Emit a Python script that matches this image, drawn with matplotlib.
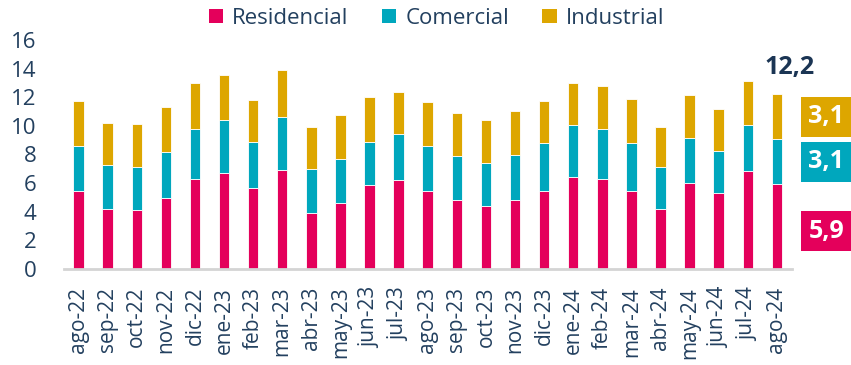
import matplotlib
matplotlib.use("Agg")
import matplotlib.pyplot as plt
import numpy as np
from matplotlib.patches import Patch

months = ["ago-22", "sep-22", "oct-22", "nov-22", "dic-22", "ene-23", "feb-23", "mar-23",
          "abr-23", "may-23", "jun-23", "jul-23", "ago-23", "sep-23", "oct-23", "nov-23",
          "dic-23", "ene-24", "feb-24", "mar-24", "abr-24", "may-24", "jun-24", "jul-24",
          "ago-24"]

residencial = [5.45, 4.20, 4.10, 4.92, 6.25, 6.71, 5.62, 6.90, 3.92, 4.57, 5.83, 6.18,
               5.45, 4.83, 4.36, 4.83, 5.45, 6.43, 6.25, 5.45, 4.20, 5.99, 5.27, 6.81,
               5.94]
comercial = [3.15, 3.05, 2.99, 3.24, 3.52, 3.69, 3.24, 3.68, 3.05, 3.12, 3.03, 3.21,
             3.15, 3.05, 3.05, 3.14, 3.31, 3.59, 3.52, 3.31, 2.89, 3.15, 2.96, 3.21,
             3.12]
industrial = [3.13, 2.94, 3.00, 3.12, 3.21, 3.12, 2.96, 3.29, 2.96, 3.03, 3.12, 2.96,
              3.03, 3.03, 2.96, 3.03, 2.97, 2.96, 3.03, 3.13, 2.84, 3.03, 2.94, 3.13,
              3.14]

c_res = "#E4005B"
c_com = "#00A7BD"
c_ind = "#DDA600"
c_text = "#23405F"

plt.rcParams["font.family"] = ["Open Sans", "DejaVu Sans"]

fig = plt.figure(figsize=(8.51, 3.65), dpi=100)
ax = fig.add_axes([0.0752, 0.2638, 0.8555, 0.6266])

x = np.arange(len(months))
res = np.array(residencial)
com = np.array(comercial)
ind = np.array(industrial)
w = 0.36
ax.bar(x, res, w, color=c_res, edgecolor="white", linewidth=0.6)
ax.bar(x, com, w, bottom=res, color=c_com, edgecolor="white", linewidth=0.6)
ax.bar(x, ind, w, bottom=res + com, color=c_ind, edgecolor="white", linewidth=0.6)

ax.set_xlim(-0.5, len(months) - 0.48)
ax.set_ylim(0, 16)
ax.set_yticks(np.arange(0, 17, 2))
ax.set_xticks(x)
ax.set_xticklabels(months, rotation=90, fontsize=15, color=c_text)
ax.tick_params(axis="y", labelsize=16, labelcolor=c_text, length=0, pad=20)
ax.tick_params(axis="x", length=0, pad=13)

for s in ("top", "right", "left"):
    ax.spines[s].set_visible(False)
ax.spines["bottom"].set_color("#D4D4D4")
ax.spines["bottom"].set_linewidth(2)

# Latest month: total above and boxed component values at the right
i = len(months) - 1
total = res[i] + com[i] + ind[i]
fmt = lambda v: f"{v:.1f}".replace(".", ",")
ax.text(i + 0.43, total + 1.9, fmt(total), fontsize=18, fontweight="bold",
        color="#1B3554", ha="center", va="center", clip_on=False)

box_x = i + 1.7
for yv, val, col in [(res[i] + com[i] + ind[i] / 2, ind[i], c_ind),
                     (res[i] + com[i] / 2, com[i], c_com),
                     (res[i] * 0.44, res[i], c_res)]:
    ax.text(box_x, yv, fmt(val), fontsize=18, fontweight="bold", color="white",
            ha="center", va="center", clip_on=False,
            bbox=dict(boxstyle="square,pad=0.3", facecolor=col, edgecolor="none"))

handles = [Patch(facecolor=c_res, label="Residencial"),
           Patch(facecolor=c_com, label="Comercial"),
           Patch(facecolor=c_ind, label="Industrial")]
fig.legend(handles=handles, loc="center", bbox_to_anchor=(0.513, 0.950), ncol=3,
           frameon=False, fontsize=16, handlelength=0.65, handleheight=0.65,
           handletextpad=0.4, columnspacing=1.5, labelcolor=c_text)

fig.savefig("out.png", dpi=100)
